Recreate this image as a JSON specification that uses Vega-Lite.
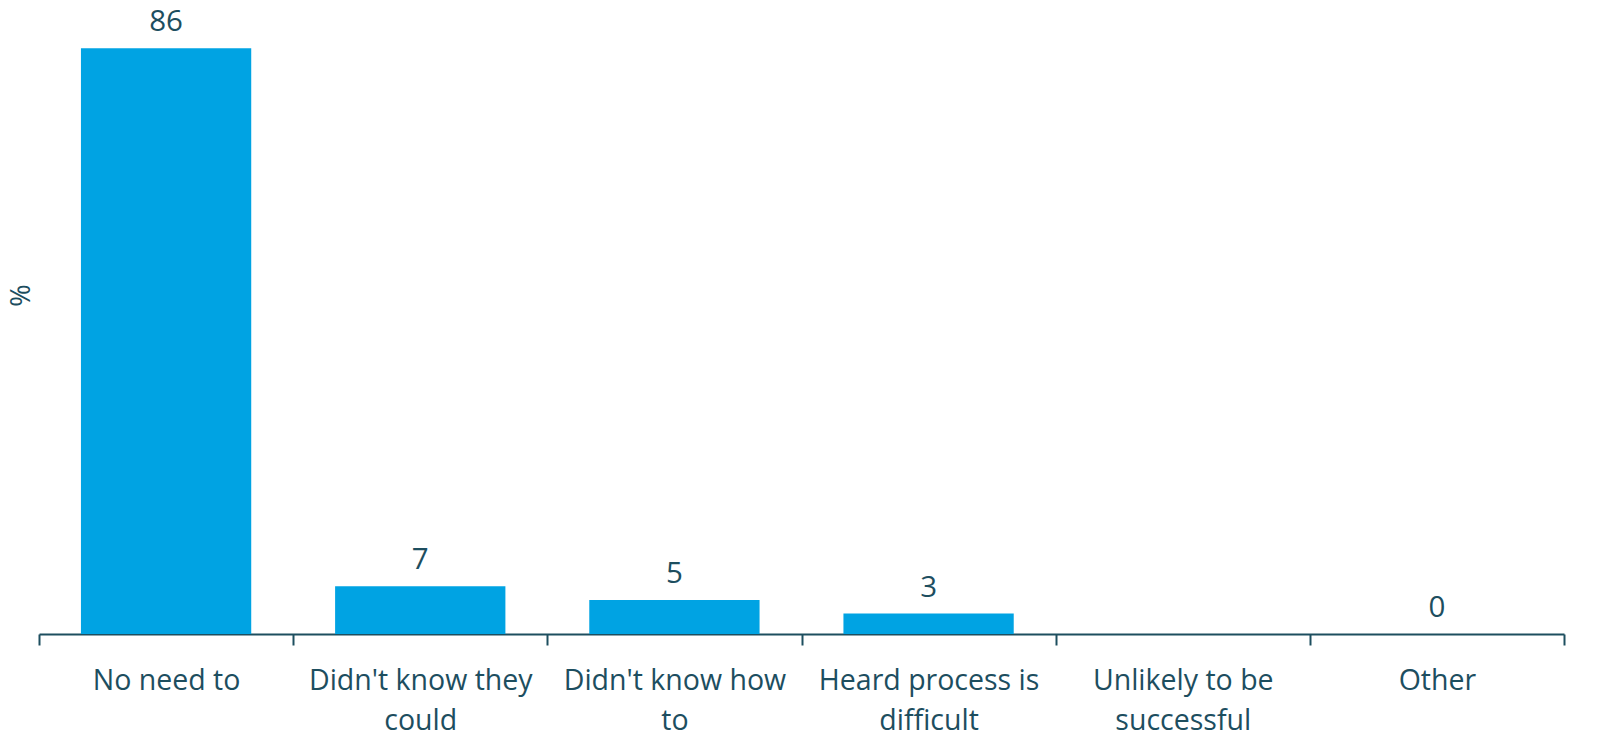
{
  "$schema": "https://vega.github.io/schema/vega-lite/v6.json",
  "autosize": {"type": "none"},
  "width": 1525,
  "height": 613,
  "padding": {"left": 39, "top": 21, "right": 42, "bottom": 119},
  "background": "white",
  "config": {
    "view": {"stroke": null},
    "font": "Open Sans",
    "text": {"font": "Open Sans"}
  },
  "data": {
    "values": [
      {"reason": "No need to", "pct": 86},
      {"reason": "Didn't know they could", "pct": 7},
      {"reason": "Didn't know how to", "pct": 5},
      {"reason": "Heard process is difficult", "pct": 3},
      {"reason": "Unlikely to be successful", "pct": null},
      {"reason": "Other", "pct": 0}
    ]
  },
  "encoding": {
    "x": {
      "field": "reason",
      "type": "nominal",
      "sort": null,
      "scale": {
        "domain": ["No need to", "Didn't know they could", "Didn't know how to", "Heard process is difficult", "Unlikely to be successful", "Other"],
        "paddingInner": 0,
        "paddingOuter": 0
      },
      "axis": {
        "title": null,
        "labelAngle": 0,
        "labelFont": "Open Sans",
        "labelFontSize": 28.5,
        "labelColor": "#1D4E5F",
        "labelLineHeight": 40,
        "labelPadding": 21,
        "labelLimit": 400,
        "labelExpr": "datum.value == \"Didn't know they could\" ? [\"Didn't know they\", \"could\"] : datum.value == \"Didn't know how to\" ? [\"Didn't know how\", \"to\"] : datum.value == \"Heard process is difficult\" ? [\"Heard process is\", \"difficult\"] : datum.value == \"Unlikely to be successful\" ? [\"Unlikely to be\", \"successful\"] : datum.value",
        "domainColor": "#1D4E5F",
        "domainWidth": 2,
        "tickColor": "#1D4E5F",
        "tickWidth": 2,
        "tickSize": 11,
        "tickBand": "extent"
      }
    },
    "y": {
      "field": "pct",
      "type": "quantitative",
      "scale": {"domain": [0, 90]},
      "axis": {
        "title": "%",
        "titleFont": "Open Sans",
        "titleFontSize": 27,
        "titleFontWeight": "normal",
        "titleColor": "#1D4E5F",
        "titlePadding": 4,
        "titleY": 274,
        "labels": false,
        "ticks": false,
        "domain": false,
        "grid": false
      }
    }
  },
  "layer": [
    {"mark": {"type": "bar", "color": "#00A3E3", "width": {"band": 0.67}}},
    {
      "mark": {"type": "text", "baseline": "alphabetic", "dy": -17, "fontSize": 29.5, "color": "#1D4E5F", "font": "Open Sans"},
      "encoding": {"text": {"field": "pct", "type": "quantitative"}}
    }
  ]
}
